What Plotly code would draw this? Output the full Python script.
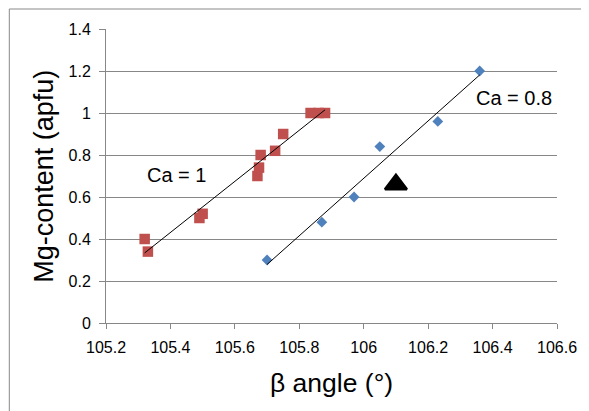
import numpy as np
import plotly.graph_objects as go

# Ca = 1 series (red squares)
ca1_beta = [105.32, 105.33, 105.49, 105.50, 105.67, 105.675, 105.68, 105.725, 105.75, 105.835, 105.86, 105.88]
ca1_mg = [0.40, 0.34, 0.50, 0.52, 0.70, 0.74, 0.80, 0.82, 0.90, 1.00, 1.00, 1.00]

# Ca = 0.8 series (blue diamonds)
ca08_beta = [105.70, 105.87, 105.97, 106.05, 106.23, 106.36]
ca08_mg = [0.30, 0.48, 0.60, 0.84, 0.96, 1.20]

# single black triangle
tri_beta = [106.10]
tri_mg = [0.66]

x_ticks = [105.2, 105.4, 105.6, 105.8, 106.0, 106.2, 106.4, 106.6]
x_labels = ["105.2", "105.4", "105.6", "105.8", "106", "106.2", "106.4", "106.6"]
y_ticks = [0, 0.2, 0.4, 0.6, 0.8, 1.0, 1.2, 1.4]
y_labels = ["0", "0.2", "0.4", "0.6", "0.8", "1", "1.2", "1.4"]

FONT = "Liberation Sans, Arial, sans-serif"
GRID = "#878787"


def trend(xs, ys):
    xs = np.array(xs)
    ys = np.array(ys)
    m, b = np.polyfit(xs, ys, 1)
    xx = np.array([xs.min(), xs.max()])
    return xx, m * xx + b


fig = go.Figure()
fig.add_trace(go.Scatter(x=ca1_beta, y=ca1_mg, mode="markers",
                         marker=dict(symbol="square", size=10.5, color="#C0504D",
                                     line=dict(width=0)), name="Ca = 1"))
fig.add_trace(go.Scatter(x=ca08_beta, y=ca08_mg, mode="markers",
                         marker=dict(symbol="diamond", size=8.3, color="#4F81BD",
                                     line=dict(width=0)), name="Ca = 0.8"))
fig.add_trace(go.Scatter(x=tri_beta, y=tri_mg, mode="markers",
                         marker=dict(symbol="triangle-up", size=19, color="black",
                                     line=dict(width=2.5, color="black")), name="triangle"))

tx, ty = trend(ca1_beta, ca1_mg)
fig.add_trace(go.Scatter(x=tx, y=ty, mode="lines", line=dict(color="black", width=1)))
tx, ty = trend(ca08_beta, ca08_mg)
fig.add_trace(go.Scatter(x=tx, y=ty, mode="lines", line=dict(color="black", width=1)))

fig.update_layout(
    width=581, height=403,
    margin=dict(l=98, r=26, t=21, b=88),
    paper_bgcolor="white", plot_bgcolor="white",
    showlegend=False,
    font=dict(family=FONT, color="black"),
    xaxis=dict(range=[105.2, 106.6], tickvals=x_ticks, ticktext=x_labels,
               showgrid=False, zeroline=False, showline=True, linecolor=GRID, linewidth=1,
               ticks="outside", ticklen=5, tickcolor=GRID, tickwidth=1,
               ticklabelstandoff=5,
               tickfont=dict(size=16, family=FONT, color="black")),
    yaxis=dict(range=[0, 1.4], tickvals=y_ticks, ticktext=y_labels,
               showgrid=True, gridcolor=GRID, gridwidth=1, zeroline=False,
               showline=True, linecolor=GRID, linewidth=1,
               ticks="outside", ticklen=6, tickcolor=GRID, tickwidth=1,
               ticklabelstandoff=5,
               tickfont=dict(size=16, family=FONT, color="black")),
    shapes=[dict(type="rect", xref="paper", yref="paper",
                 x0=-0.2144, x1=1.08, y0=-0.35, y1=1.068,
                 line=dict(color="#898989", width=1), fillcolor="rgba(0,0,0,0)", layer="below")],
    annotations=[
        dict(text="Mg-content (apfu)", xref="paper", yref="paper", x=-0.138, y=0.5,
             textangle=-90, showarrow=False, xanchor="center", yanchor="middle",
             font=dict(size=27, family=FONT, color="black")),
        dict(text="β angle (°)", xref="paper", yref="paper", x=0.5, y=-0.203,
             showarrow=False, xanchor="center", yanchor="middle",
             font=dict(size=26.5, family=FONT, color="black")),
        dict(text="Ca = 1", x=105.419, y=0.705, xref="x", yref="y", showarrow=False,
             xanchor="center", yanchor="middle", font=dict(size=20, family=FONT, color="black")),
        dict(text="Ca = 0.8", x=106.465, y=1.07, xref="x", yref="y", showarrow=False,
             xanchor="center", yanchor="middle", font=dict(size=20, family=FONT, color="black")),
    ],
)

fig.write_html("out.html")
